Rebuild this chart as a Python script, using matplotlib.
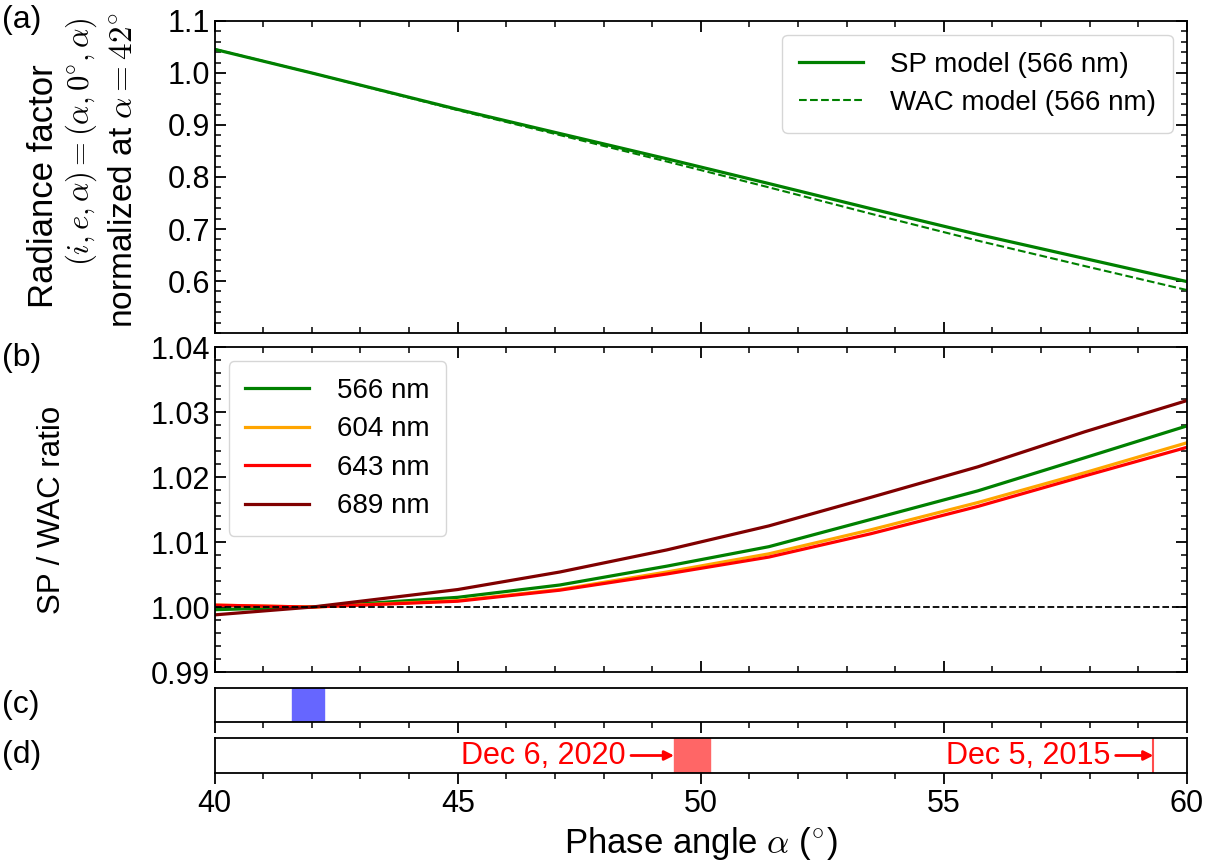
import matplotlib
matplotlib.use('Agg')
import matplotlib.pyplot as plt
from matplotlib.ticker import MultipleLocator, FixedLocator

plt.rcParams['font.family'] = ['Liberation Sans', 'DejaVu Sans']
plt.rcParams['mathtext.fontset'] = 'cm'
plt.rcParams['font.size'] = 22

# phase angle nodes (deg)
alpha = [40, 42, 45, 47.1, 49.3, 51.4, 53.5, 55.7, 57.9, 60]

# (a) radiance factor normalized at 42 deg, 566 nm
sp_566 = [1.0455, 1.0000, 0.9300, 0.8836, 0.8350, 0.7874, 0.7391, 0.6896, 0.6432, 0.5989]
wac_566 = [1.0459, 1.0000, 0.9286, 0.8806, 0.8298, 0.7801, 0.7293, 0.6775, 0.6287, 0.5826]

# (b) SP / WAC ratio
bands = ['566 nm', '604 nm', '643 nm', '689 nm']
band_colors = ['green', 'orange', 'red', 'maroon']
ratio = {
    '566 nm': [0.9996, 1.0000, 1.0015, 1.0034, 1.0063, 1.0093, 1.0135, 1.0179, 1.0230, 1.0279],
    '604 nm': [1.0003, 1.0000, 1.0010, 1.0027, 1.0054, 1.0082, 1.0119, 1.0161, 1.0207, 1.0253],
    '643 nm': [1.0003, 1.0000, 1.0009, 1.0026, 1.0051, 1.0077, 1.0113, 1.0155, 1.0202, 1.0246],
    '689 nm': [0.9988, 1.0000, 1.0027, 1.0054, 1.0088, 1.0125, 1.0169, 1.0216, 1.0270, 1.0318],
}

# (c) and (d) observation ranges
c_span = (41.59, 42.25)
d_span = (49.45, 50.19)
d_line = 59.31

W, H = 1221, 867
fig = plt.figure(figsize=(W / 100, H / 100), dpi=100)
L, Wd = 0.1758, 0.7963
ax_a = fig.add_axes([L, 0.6159, Wd, 0.3599])
ax_b = fig.add_axes([L, 0.2249, Wd, 0.3745])
ax_c = fig.add_axes([L, 0.1672, Wd, 0.0392])
ax_d = fig.add_axes([L, 0.1084, Wd, 0.0404])

for ax in (ax_a, ax_b):
    ax.tick_params(which='both', direction='in', top=True, right=True, labelsize=22)
    ax.tick_params(which='major', length=8, width=1.3)
    ax.tick_params(which='minor', length=4, width=1.1)
    ax.xaxis.set_major_locator(MultipleLocator(5))
    ax.xaxis.set_minor_locator(MultipleLocator(1))
    ax.tick_params(labelbottom=False)
for ax in (ax_a, ax_b, ax_c, ax_d):
    ax.set_xlim(40, 60)
    for s in ax.spines.values():
        s.set_linewidth(1.3)

# (a)
ax_a.plot(alpha, sp_566, color='green', lw=2.3, label='SP model (566 nm)')
ax_a.plot(alpha, wac_566, color='green', lw=1.5, ls='--', label='WAC model (566 nm)')
ax_a.set_ylim(0.5, 1.1)
ax_a.yaxis.set_major_locator(FixedLocator([0.6, 0.7, 0.8, 0.9, 1.0, 1.1]))
ax_a.yaxis.set_minor_locator(MultipleLocator(0.02))
ax_a.legend(loc='upper right', fontsize=20, handlelength=2.3, borderpad=0.6,
            labelspacing=0.45, handletextpad=1.0)

# y label of (a), three lines
fig.text(44 / W, 1 - 186 / H, 'Radiance factor', rotation=90, ha='center', va='center', fontsize=25)
fig.text(81 / W, 1 - 142 / H, '$(i,e,\\alpha)=(\\alpha,0^{\\circ},\\alpha)$', rotation=90,
         ha='center', va='center', fontsize=22)
fig.text(123 / W, 1 - 170 / H, 'normalized at $\\alpha=42^{\\circ}$', rotation=90,
         ha='center', va='center', fontsize=24)

# (b)
for b, c in zip(bands, band_colors):
    ax_b.plot(alpha, ratio[b], color=c, lw=2.3, label=b)
ax_b.axhline(1.0, color='black', lw=1.3, ls='--')
ax_b.set_ylim(0.99, 1.04)
ax_b.yaxis.set_major_locator(MultipleLocator(0.01))
ax_b.yaxis.set_minor_locator(MultipleLocator(0.002))
ax_b.set_ylabel('SP / WAC ratio', fontsize=22.5)
ax_b.yaxis.set_label_coords(-0.152, 0.5)
ax_b.legend(loc='upper left', fontsize=20, handlelength=2.3, borderpad=0.6,
            labelspacing=0.45, handletextpad=1.0)

# (c)
ax_c.axvspan(*c_span, color='#6666ff')
# (d)
ax_d.axvspan(*d_span, color='#ff6666')
ax_d.axvline(d_line, color='#ff4d4d', lw=1.5)
for ax in (ax_c, ax_d):
    ax.set_ylim(0, 1)
    ax.set_yticks([])
    ax.xaxis.set_major_locator(MultipleLocator(5))
    ax.xaxis.set_minor_locator(MultipleLocator(1))
    ax.tick_params(which='both', direction='out', top=False, labelsize=22)
    ax.tick_params(which='major', length=8, width=1.3)
    ax.tick_params(which='minor', length=4, width=1.1)
ax_c.tick_params(labelbottom=False)

arrow = dict(arrowstyle='-|>', color='red', lw=2, mutation_scale=14, shrinkA=2, shrinkB=0)
ax_d.annotate('Dec 6, 2020', xy=(d_span[0], 0.5), xytext=(48.45, 0.5), color='red',
              ha='right', va='center', fontsize=22, arrowprops=arrow)
ax_d.annotate('Dec 5, 2015', xy=(d_line, 0.5), xytext=(58.42, 0.5), color='red',
              ha='right', va='center', fontsize=22, arrowprops=arrow)
ax_d.set_xlabel('Phase angle $\\alpha$ ($^{\\circ}$)', fontsize=25, labelpad=4)

# panel labels
fig.text(0.002, 0.977, '(a)', fontsize=23, va='center')
fig.text(0.002, 0.587, '(b)', fontsize=23, va='center')
fig.text(0.002, 0.187, '(c)', fontsize=23, va='center')
fig.text(0.002, 0.129, '(d)', fontsize=23, va='center')

fig.savefig('out.png', dpi=100)
